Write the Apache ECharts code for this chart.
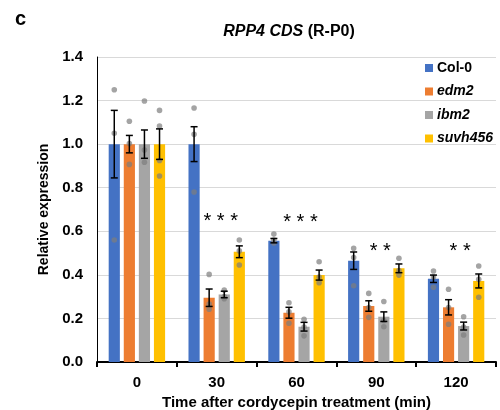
<!DOCTYPE html>
<html>
<head>
<meta charset="utf-8">
<script src="https://cdn.jsdelivr.net/npm/echarts@6/dist/echarts.min.js"></script>
<title>RPP4 CDS</title>
</head>
<body style="margin:0">
<div id="main" style="width:500px;height:410px"></div>
<script type="text/javascript">
var categories = ['0', '30', '60', '90', '120'];
var genotypes = ['Col-0', 'edm2', 'ibm2', 'suvh456'];
var colors = ['#4472c4', '#ed7d31', '#a5a5a5', '#ffc000'];

// means and standard errors, one entry per time point
var col0Mean = [1.0, 1.0, 0.557, 0.465, 0.382];
var col0Err  = [0.155, 0.08, 0.01, 0.04, 0.017];
var edm2Mean = [1.0, 0.295, 0.226, 0.257, 0.251];
var edm2Err  = [0.04, 0.04, 0.025, 0.024, 0.035];
var ibm2Mean = [1.0, 0.31, 0.162, 0.208, 0.165];
var ibm2Err  = [0.065, 0.015, 0.02, 0.022, 0.018];
var suvhMean = [1.0, 0.506, 0.399, 0.43, 0.372];
var suvhErr  = [0.07, 0.027, 0.023, 0.02, 0.032];

// individual replicates
var col0Dots = [[1.25, 1.05, 0.56], [1.166, 1.045, 0.78], [0.587, 0.56, 0.546], [0.522, 0.48, 0.35], [0.418, 0.39, 0.343]];
var edm2Dots = [[1.105, 1.003, 0.907], [0.402, 0.266, 0.242], [0.272, 0.23, 0.178], [0.315, 0.25, 0.205], [0.334, 0.25, 0.173]];
var ibm2Dots = [[1.198, 0.973, 0.917], [0.33, 0.30, 0.29], [0.196, 0.16, 0.12], [0.278, 0.19, 0.162], [0.208, 0.16, 0.124]];
var suvhDots = [[1.155, 1.083, 0.925, 0.854], [0.56, 0.51, 0.445], [0.46, 0.39, 0.364], [0.476, 0.42, 0.399], [0.441, 0.38, 0.297]];

var sigText = ['', '* * *', '* * *', '* *', '* *'];
var sigY = [0, 0.645, 0.64, 0.505, 0.505];

var means = [col0Mean, edm2Mean, ibm2Mean, suvhMean];
var errs = [col0Err, edm2Err, ibm2Err, suvhErr];
var dots = [col0Dots, edm2Dots, ibm2Dots, suvhDots];

var BAR_FRAC = 0.14, GAP_FRAC = 0.35;
function barOffset(api, s) {
    var band = api.size([1, 0])[0];
    var bw = band * BAR_FRAC;
    var gap = bw * GAP_FRAC;
    var total = 4 * bw + 3 * gap;
    return -total / 2 + bw / 2 + s * (bw + gap);
}

var errData = [], dotData = [], sigData = [];
for (var s = 0; s < 4; s++) {
    for (var c = 0; c < categories.length; c++) {
        errData.push([c, s, means[s][c], errs[s][c]]);
        dots[s][c].forEach(function (v) { dotData.push([c, s, v]); });
    }
}
for (var c = 0; c < categories.length; c++) {
    if (sigText[c]) sigData.push([c, sigY[c], sigText[c]]);
}

var myChart = echarts.init(document.getElementById('main'));
var series = genotypes.map(function (g, i) {
    return {
        name: g,
        type: 'bar',
        data: means[i],
        barWidth: (BAR_FRAC * 100) + '%',
        barGap: (GAP_FRAC * 100) + '%',
        itemStyle: { color: colors[i] },
        silent: true
    };
});
series.push({
    type: 'custom',
    data: dotData,
    z: 3,
    renderItem: function (params, api) {
        var p = api.coord([api.value(0), api.value(2)]);
        return {
            type: 'circle',
            shape: { cx: p[0] + barOffset(api, api.value(1)), cy: p[1], r: 2.8 },
            style: { fill: 'rgba(125,125,125,0.7)' }
        };
    }
});
series.push({
    type: 'custom',
    data: errData,
    z: 4,
    renderItem: function (params, api) {
        var c = api.value(0), m = api.value(2), e = api.value(3);
        var hi = api.coord([c, m + e]), lo = api.coord([c, m - e]);
        var x = hi[0] + barOffset(api, api.value(1));
        var st = { stroke: '#000', lineWidth: 1.5 };
        return {
            type: 'group',
            children: [
                { type: 'line', shape: { x1: x, y1: hi[1], x2: x, y2: lo[1] }, style: st },
                { type: 'line', shape: { x1: x - 3.5, y1: hi[1], x2: x + 3.5, y2: hi[1] }, style: st },
                { type: 'line', shape: { x1: x - 3.5, y1: lo[1], x2: x + 3.5, y2: lo[1] }, style: st }
            ]
        };
    }
});
series.push({
    type: 'custom',
    data: sigData,
    z: 5,
    renderItem: function (params, api) {
        var p = api.coord([api.value(0), api.value(1)]);
        return {
            type: 'text',
            x: p[0] + 4, y: p[1],
            style: {
                text: sigText[api.value(0)],
                fontSize: 20, fontFamily: 'Liberation Sans', fill: '#000',
                align: 'center', verticalAlign: 'middle'
            }
        };
    }
});

var option = {
    animation: false,
    textStyle: { fontFamily: 'Liberation Sans' },
    grid: { left: 97, right: 4, top: 57, bottom: 48, outerBoundsMode: 'none', containLabel: false },
    legend: {
        orient: 'vertical',
        left: 425, top: 61, padding: 0,
        itemWidth: 8, itemHeight: 8, itemGap: 9.5,
        icon: 'rect',
        data: genotypes,
        formatter: function (n) { return n === 'Col-0' ? '{b|' + n + '}' : '{i|' + n + '}'; },
        textStyle: {
            padding: [0, 0, 0, -1],
            rich: {
                b: { fontSize: 14, fontWeight: 'bold', color: '#000', lineHeight: 14 },
                i: { fontSize: 14, fontWeight: 'bold', fontStyle: 'italic', color: '#000', lineHeight: 14 }
            }
        }
    },
    graphic: [
        { type: 'text', left: 15, top: 9, style: { text: 'c', fontSize: 20, fontWeight: 'bold', fontFamily: 'Liberation Sans', fill: '#000' } },
        {
            type: 'text', x: 289, y: 32,
            style: {
                text: '{i|RPP4 CDS}{b| (R-P0)}',
                align: 'center', verticalAlign: 'middle',
                rich: {
                    i: { fontSize: 16, fontWeight: 'bold', fontStyle: 'italic', fontFamily: 'Liberation Sans', fill: '#000' },
                    b: { fontSize: 16, fontWeight: 'bold', fontFamily: 'Liberation Sans', fill: '#000' }
                }
            }
        }
    ],
    xAxis: {
        type: 'category',
        data: categories,
        name: 'Time after cordycepin treatment (min)',
        nameLocation: 'middle',
        nameGap: 29,
        nameTextStyle: { fontSize: 15, fontWeight: 'bold', color: '#000' },
        axisLine: { lineStyle: { color: '#000', width: 2 } },
        axisTick: { show: true, length: 5, lineStyle: { color: '#000', width: 2 } },
        axisLabel: { fontSize: 15, fontWeight: 'bold', color: '#000', margin: 13 }
    },
    yAxis: {
        type: 'value',
        min: 0, max: 1.4, interval: 0.2,
        name: 'Relative expression',
        nameLocation: 'middle',
        nameGap: 46,
        nameTextStyle: { fontSize: 14, fontWeight: 'bold', color: '#000' },
        axisLine: { show: true, lineStyle: { color: '#000', width: 1 } },
        axisTick: { show: false },
        splitLine: { lineStyle: { color: '#d9d9d9', width: 1 } },
        axisLabel: { fontSize: 15, fontWeight: 'bold', color: '#000', margin: 14, formatter: function (v) { return v.toFixed(1); } }
    },
    series: series
};
myChart.setOption(option);
</script>
</body>
</html>
